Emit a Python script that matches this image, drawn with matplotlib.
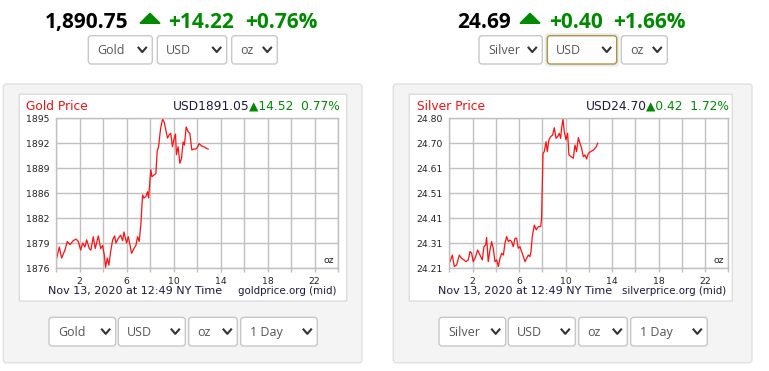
import matplotlib
matplotlib.use('Agg')
import matplotlib.pyplot as plt
from matplotlib.patches import FancyBboxPatch, Polygon
from matplotlib.lines import Line2D
from matplotlib.transforms import Affine2D
import numpy as np

# ---- data ----
gold_hours = [0.06, 0.28, 0.48, 0.76, 0.96, 1.19, 1.47, 1.70, 1.90, 2.10, 2.27, 2.46, 2.61, 2.83,
              2.97, 3.17, 3.34, 3.60, 3.80, 3.97, 4.11, 4.22, 4.36, 4.50, 4.65, 4.82, 4.99, 5.10,
              5.30, 5.50, 5.67, 5.78, 6.01, 6.15, 6.29, 6.43, 6.63, 6.80, 6.94, 7.08, 7.22, 7.37,
              7.48, 7.65, 7.79, 7.88, 7.99, 8.07, 8.16, 8.33, 8.50, 8.61, 8.73, 8.90, 9.07, 9.21,
              9.35, 9.49, 9.63, 9.77, 9.91, 10.03, 10.17, 10.25, 10.39, 10.54, 10.68, 10.82, 10.93,
              11.08, 11.25, 11.39, 11.56, 11.73, 11.90, 12.04, 12.18, 12.38, 12.58, 12.80, 12.95]
gold_prices = [1877.3, 1878.7, 1877.3, 1878.3, 1879.4, 1879.0, 1879.5, 1879.7, 1879.4, 1878.3,
               1879.2, 1878.7, 1879.6, 1878.5, 1878.3, 1880.0, 1878.5, 1880.1, 1878.5, 1878.9,
               1877.7, 1876.1, 1877.3, 1876.4, 1878.1, 1879.6, 1880.1, 1879.2, 1879.8, 1880.2,
               1879.5, 1880.6, 1879.2, 1880.0, 1879.0, 1877.9, 1878.5, 1878.9, 1880.0, 1879.4,
               1881.5, 1885.3, 1884.9, 1885.1, 1885.7, 1884.9, 1887.0, 1888.5, 1887.6, 1887.8,
               1888.0, 1890.8, 1891.4, 1893.7, 1894.9, 1894.5, 1893.5, 1892.5, 1892.9, 1893.1,
               1891.4, 1892.3, 1893.0, 1890.4, 1891.4, 1889.3, 1889.9, 1892.0, 1891.6, 1893.9,
               1893.3, 1893.1, 1891.0, 1891.1, 1891.1, 1891.3, 1891.8, 1891.5, 1891.4, 1891.2,
               1891.1]
gold_ylim = (1876, 1895)
gold_ylabels = ['1876', '1879', '1882', '1886', '1889', '1892', '1895']

silver_hours = [0.06, 0.26, 0.43, 0.63, 0.86, 1.06, 1.26, 1.43, 1.63, 1.78,
                1.92, 2.06, 2.27, 2.44, 2.64, 2.84, 2.98, 3.13, 3.21, 3.35,
                3.50, 3.64, 3.78, 3.93, 4.07, 4.22, 4.36, 4.50, 4.65, 4.79,
                4.93, 5.08, 5.22, 5.36, 5.50, 5.65, 5.79, 5.93, 6.08, 6.22,
                6.37, 6.51, 6.65, 6.80, 6.94, 7.03, 7.14, 7.31, 7.48, 7.66,
                7.86, 7.94, 8.06, 8.17, 8.32, 8.43, 8.57, 8.72, 8.89, 9.03,
                9.18, 9.32, 9.46, 9.58, 9.66, 9.78, 9.89, 10.04, 10.18, 10.29,
                10.47, 10.67, 10.81, 10.95, 11.10, 11.24, 11.38, 11.53, 11.67, 11.81,
                11.96, 12.16, 12.39, 12.53, 12.65, 12.76]
silver_prices = [24.236, 24.262, 24.217, 24.223, 24.262, 24.249, 24.243, 24.236, 24.243, 24.276,
                 24.269, 24.236, 24.256, 24.282, 24.262, 24.243, 24.295, 24.302, 24.331, 24.236,
                 24.282, 24.315, 24.289, 24.236, 24.243, 24.217, 24.249, 24.269, 24.262, 24.308,
                 24.335, 24.315, 24.321, 24.315, 24.295, 24.328, 24.328, 24.289, 24.295, 24.276,
                 24.256, 24.236, 24.249, 24.262, 24.256, 24.276, 24.335, 24.380, 24.361, 24.374,
                 24.374, 24.407, 24.662, 24.669, 24.708, 24.669, 24.715, 24.728, 24.734, 24.763,
                 24.721, 24.728, 24.741, 24.721, 24.761, 24.797, 24.748, 24.715, 24.741, 24.656,
                 24.649, 24.643, 24.695, 24.669, 24.724, 24.702, 24.682, 24.649, 24.656, 24.640,
                 24.662, 24.669, 24.675, 24.682, 24.689, 24.702]
silver_ylim = (24.21, 24.80)
silver_ylabels = ['24.21', '24.31', '24.41', '24.51', '24.61', '24.70', '24.80']

xticks = list(range(0, 25, 2))
xlabels = ['' if t % 4 == 0 else str(t) for t in xticks]

W, H = 769, 371
GREEN = '#008a00'
DARK = '#1c1a40'
GRID = '#c0c0c0'
HEAD_FONT = ['Open Sans', 'DejaVu Sans']

fig = plt.figure(figsize=(W / 100, H / 100), dpi=100)
fig.patch.set_facecolor('white')
# pixel coordinates, origin top-left
px = Affine2D().scale(1 / W, -1 / H).translate(0, 1) + fig.transFigure


def rbox(x0, y0, x1, y1, fc='white', ec='#c8c8c8', r=3, lw=1, z=-1):
    p = FancyBboxPatch((x0, y0), x1 - x0, y1 - y0,
                       boxstyle=f'round,pad=0,rounding_size={r}',
                       transform=px, facecolor=fc, edgecolor=ec, linewidth=lw, zorder=z)
    fig.add_artist(p)


def dropdown(x0, x1, y0, y1, label, ec='#c8c8c8'):
    rbox(x0, y0, x1, y1, ec=ec, z=1)
    ym = (y0 + y1) / 2
    fig.text(x0 + 9, ym + 0.5, label, transform=px, ha='left', va='center',
             fontsize=9, color='#555555', family=HEAD_FONT, zorder=2)
    cx = x1 - 10
    fig.add_artist(Line2D([cx - 3.8, cx, cx + 3.8], [ym - 2.2, ym + 2.2, ym - 2.2],
                          transform=px, color='#333333', lw=1.5, zorder=2))


def header(x_price, price, x_tri, chg, x_chg, pct, x_pct):
    fig.text(x_price, 28, price, transform=px, ha='left', va='baseline',
             fontsize=15, fontweight='bold', color='black', family=HEAD_FONT)
    fig.add_artist(Polygon([[x_tri, 23.3], [x_tri + 20, 23.3], [x_tri + 10, 13.3]],
                           closed=True, transform=px, color=GREEN, zorder=2))
    fig.text(x_chg, 28, chg, transform=px, ha='left', va='baseline',
             fontsize=15, fontweight='bold', color=GREEN, family=HEAD_FONT)
    fig.text(x_pct, 28, pct, transform=px, ha='left', va='baseline',
             fontsize=15, fontweight='bold', color=GREEN, family=HEAD_FONT)


def chart(ax_px, hours, prices, ylim, ylabels):
    l, r, t, b = ax_px
    ax = fig.add_axes([l / W, 1 - b / H, (r - l) / W, (b - t) / H])
    ax.set_facecolor('white')
    ax.plot(hours, prices, color='#ff1010', lw=0.9)
    ax.set_xlim(0, 24)
    ax.set_ylim(*ylim)
    ax.set_xticks(xticks)
    ax.set_xticklabels(xlabels)
    ax.set_yticks(np.linspace(ylim[0], ylim[1], len(ylabels)))
    ax.set_yticklabels(ylabels)
    ax.grid(True, color=GRID, lw=1)
    ax.set_axisbelow(True)
    for s in ax.spines.values():
        s.set_color(GRID)
        s.set_linewidth(1)
    ax.tick_params(axis='x', length=3, width=1, color=GRID, pad=3, labelsize=6.7,
                   labelcolor='#222222')
    ax.tick_params(axis='y', length=0, pad=4.5, labelsize=6.7, labelcolor='#222222')
    for lab in ax.get_xticklabels() + ax.get_yticklabels():
        lab.set_family('DejaVu Sans')
    ax.text(0.985, 0.05, 'oz', transform=ax.transAxes, ha='right', va='center',
            fontsize=6.7, color='#222222')
    return ax


def chart_head(x_left, x_right, y, title, price, change):
    fig.text(x_left, y, title, transform=px, ha='left', va='center',
             fontsize=8.8, color='#ee1111', family='DejaVu Sans')
    g = fig.text(x_right, y, change, transform=px, ha='right', va='center',
                 fontsize=8.8, color=GREEN, family='DejaVu Sans')
    fig.axes[-1].annotate(price, xy=(0, 0.5), xycoords=g, ha='right', va='center',
                          fontsize=8.8, color=DARK, family='DejaVu Sans',
                          annotation_clip=False)


def chart_foot(x_left, x_right, y, site):
    fig.text(x_left, y, 'Nov 13, 2020 at 12:49 NY Time', transform=px, ha='left',
             va='center', fontsize=8, color=DARK, family='DejaVu Sans')
    fig.text(x_right, y, site, transform=px, ha='right', va='center',
             fontsize=7.4, color=DARK, family='DejaVu Sans')


# ---- headline prices ----
header(45, '1,890.75', 140, '+14.22', 168, '+0.76%', 245.3)
header(456.7, '24.69', 520, '+0.40', 549, '+1.66%', 613.3)

dropdown(88.3, 152.3, 35.7, 64, 'Gold')
dropdown(157.3, 226.7, 35.7, 64, 'USD')
dropdown(231.7, 277.3, 35.7, 64, 'oz')
dropdown(479, 542.3, 35.7, 64, 'Silver')
rbox(545.3, 33.7, 618.7, 66, fc='#e3eefa', ec='#e3eefa', r=4, z=0)
dropdown(547.3, 616.7, 35.7, 64, 'USD', ec='#b8902e')
dropdown(621.3, 667.3, 35.7, 64, 'oz')

# ---- panels ----
for off, right in ((0, 362), (390, 752)):
    rbox(3.3 + off, 84, right, 362.7, fc='#f4f4f4', ec='#e0e0e0', r=3, z=-3)

rbox(19.3, 94.3, 346.7, 301, fc='white', ec='#dddddd', r=0, z=-2)
rbox(409.3, 94.3, 732.3, 301, fc='white', ec='#dddddd', r=0, z=-2)

chart((56, 338, 118.3, 268.3), gold_hours, gold_prices, gold_ylim, gold_ylabels)
chart_head(26, 340, 106.5, 'Gold Price', 'USD1891.05', '▲14.52  0.77%')
chart_foot(48.3, 336, 291, 'goldprice.org (mid)')

chart((449.3, 728.3, 118.3, 268.3), silver_hours, silver_prices, silver_ylim, silver_ylabels)
chart_head(416.7, 729.3, 106.5, 'Silver Price', 'USD24.70', '▲0.42  1.72%')
chart_foot(438.3, 726, 291, 'silverprice.org (mid)')

# ---- bottom selectors ----
for off, metal in ((0, 'Gold'), (390, 'Silver')):
    dropdown(49 + off, 115.7 + off, 317.3, 346, metal)
    dropdown(118.3 + off, 185.3 + off, 317.3, 346, 'USD')
    dropdown(188.7 + off, 237.3 + off, 317.3, 346, 'oz')
    dropdown(240.7 + off, 317.3 + off, 317.3, 346, '1 Day')

fig.savefig('out.png', dpi=100)
